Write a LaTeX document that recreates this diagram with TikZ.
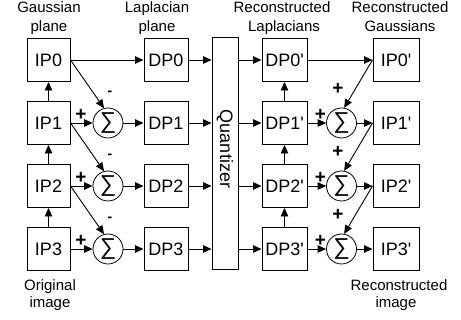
\documentclass[tikz,border=0pt]{standalone}
\usepackage{fontspec}
\setmainfont{Liberation Sans}
\usetikzlibrary{arrows.meta}
\newcommand{\sq}{\textquotesingle}
\newcommand{\sumglyph}{∑}
\begin{document}
\begin{tikzpicture}[x=1pt,y=-1pt,
  box/.style={draw, line width=1pt, minimum width=#1, minimum height=43pt, inner sep=0pt, font=\fontsize{18}{18}\selectfont},
  box/.default=44pt,
  qbox/.style={draw, line width=1pt, minimum width=26pt, minimum height=232pt, inner sep=0pt},
  qtext/.style={rotate=-90, font=\fontsize{18}{18}\selectfont, inner sep=0pt},
  sumnode/.style={draw, circle, line width=0.8pt, minimum size=30pt, inner sep=0pt, font=\fontsize{23}{23}\selectfont},
  arr/.style={line width=0.9pt, -{Triangle[length=8.5pt,width=7.5pt]}},
  captxt/.style={font=\fontsize{15}{15}\selectfont, anchor=base, inner sep=0pt},
  plus/.style={font=\fontsize{19}{19}\selectfont\bfseries, inner sep=0pt},
  minus/.style={font=\fontsize{14}{14}\selectfont\bfseries, inner sep=0pt}
]
\useasboundingbox (0,0) rectangle (461,320);
% analysis side
\node[box=43pt] (IP0) at (48.5,60) {IP0};
\node[box=43pt] (IP1) at (48.5,123) {IP1};
\node[box=43pt] (IP2) at (48.5,186) {IP2};
\node[box=43pt] (IP3) at (48.5,249) {IP3};
\node[sumnode] (S1) at (108,123) {\sumglyph};
\node[sumnode] (S2) at (108,186) {\sumglyph};
\node[sumnode] (S3) at (108,249) {\sumglyph};
\node[box] (DP0) at (166,60) {DP0};
\node[box] (DP1) at (166,123) {DP1};
\node[box] (DP2) at (166,186) {DP2};
\node[box] (DP3) at (166,249) {DP3};
\node[qbox] (Q) at (225,154) {};
\node[qtext] (Qt) at (225,149) {Quantizer};
% synthesis side
\node[box=45pt] (DPr0) at (284.5,60) {DP0\sq};
\node[box=45pt] (DPr1) at (284.5,123) {DP1\sq};
\node[box=45pt] (DPr2) at (284.5,186) {DP2\sq};
\node[box=45pt] (DPr3) at (284.5,249) {DP3\sq};
\node[sumnode] (R1) at (341.5,123) {\sumglyph};
\node[sumnode] (R2) at (341.5,186) {\sumglyph};
\node[sumnode] (R3) at (341.5,249) {\sumglyph};
\node[box=46pt] (IPr0) at (396,60) {IP0\sq};
\node[box=46pt] (IPr1) at (396,123) {IP1\sq};
\node[box=46pt] (IPr2) at (396,186) {IP2\sq};
\node[box=46pt] (IPr3) at (396,249) {IP3\sq};
% captions
\node[captxt] (c1a) at (49,13) {Gaussian};
\node[captxt] (c1b) at (49,32) {plane};
\node[captxt] (c2a) at (157,13) {Laplacian};
\node[captxt] (c2b) at (157,32) {plane};
\node[captxt] (c3a) at (282,13) {Reconstructed};
\node[captxt] (c3b) at (284,32) {Laplacians};
\node[captxt] (c4a) at (400,13) {Reconstructed};
\node[captxt] (c4b) at (400,32) {Gaussians};
\node[captxt] (c5a) at (50,291) {Original};
\node[captxt] (c5b) at (50,308) {image};
\node[captxt] (c6a) at (399,291) {Reconstructed};
\node[captxt] (c6b) at (396,308) {image};
% analysis connectors
\draw[arr] (IP1.north) -- (IP0.south);
\draw[arr] (IP2.north) -- (IP1.south);
\draw[arr] (IP3.north) -- (IP2.south);
\draw[arr] (IP0.east) -- (DP0.west);
\draw[arr] (IP0.east) -- (S1.105);
\draw[arr] (IP1.east) -- (S2.105);
\draw[arr] (IP2.east) -- (S3.105);
\draw[arr] (IP1.east) -- (S1.west);
\draw[arr] (IP2.east) -- (S2.west);
\draw[arr] (IP3.east) -- (S3.west);
\draw[arr] (S1.east) -- (DP1.west);
\draw[arr] (S2.east) -- (DP2.west);
\draw[arr] (S3.east) -- (DP3.west);
\draw[arr] (DP0.east) -- (DP0.east -| Q.west);
\draw[arr] (DP1.east) -- (DP1.east -| Q.west);
\draw[arr] (DP2.east) -- (DP2.east -| Q.west);
\draw[arr] (DP3.east) -- (DP3.east -| Q.west);
% synthesis connectors
\draw[arr] (DPr0.west -| Q.east) -- (DPr0.west);
\draw[arr] (DPr1.west -| Q.east) -- (DPr1.west);
\draw[arr] (DPr2.west -| Q.east) -- (DPr2.west);
\draw[arr] (DPr3.west -| Q.east) -- (DPr3.west);
\draw[arr] (DPr1.north) -- (DPr0.south);
\draw[arr] (DPr2.north) -- (DPr1.south);
\draw[arr] (DPr3.north) -- (DPr2.south);
\draw[arr] (DPr0.east) -- (IPr0.west);
\draw[arr] (IPr0.west) -- (R1.80);
\draw[arr] (IPr1.west) -- (R2.80);
\draw[arr] (IPr2.west) -- (R3.80);
\draw[arr] (DPr1.east) -- (R1.west);
\draw[arr] (DPr2.east) -- (R2.west);
\draw[arr] (DPr3.east) -- (R3.west);
\draw[arr] (R1.east) -- (IPr1.west);
\draw[arr] (R2.east) -- (IPr2.west);
\draw[arr] (R3.east) -- (IPr3.west);
% signs
\node[minus] (m1) at (110,93) {-};
\node[minus] (m2) at (110,156) {-};
\node[minus] (m3) at (110,219) {-};
\node[plus] (p1) at (81,115) {+};
\node[plus] (p2) at (81,178) {+};
\node[plus] (p3) at (81,241) {+};
\node[plus] (q1) at (320.5,115) {+};
\node[plus] (q2) at (320.5,178) {+};
\node[plus] (q3) at (320.5,241) {+};
\node[plus] (d1) at (338,88.5) {+};
\node[plus] (d2) at (338,151.5) {+};
\node[plus] (d3) at (338,214.5) {+};
\end{tikzpicture}
\end{document}
